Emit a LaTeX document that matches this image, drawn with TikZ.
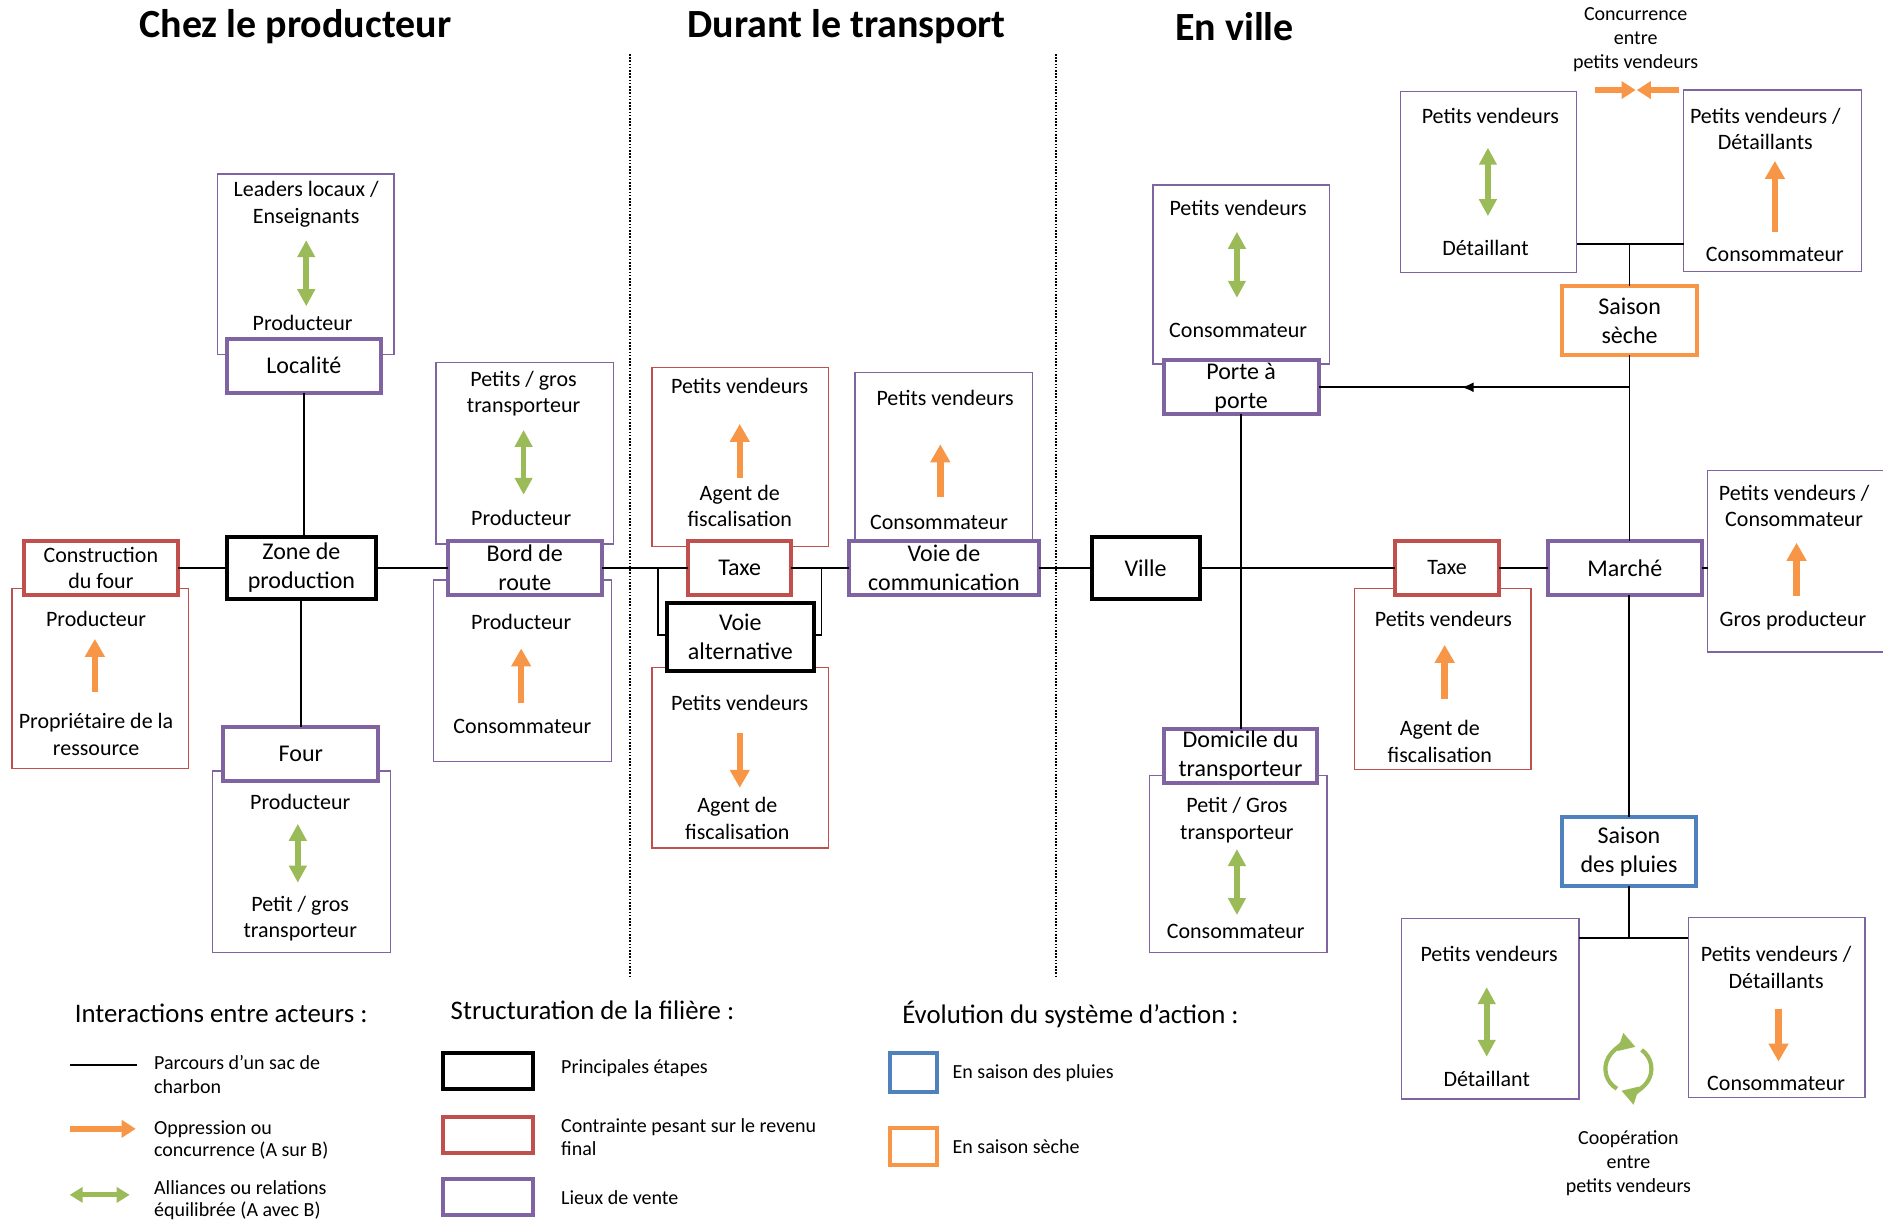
\documentclass[tikz,border=0pt]{standalone}
\usepackage{fontspec}
\setmainfont{Carlito}
\usetikzlibrary{arrows.meta,decorations.markings,calc}
\definecolor{cpurple}{HTML}{8064A2}
\definecolor{cred}{HTML}{C0504D}
\definecolor{corange}{HTML}{F79646}
\definecolor{cblue}{HTML}{4F81BD}
\definecolor{cgreen}{HTML}{9BBB59}
\newcommand{\fA}{\fontsize{11}{13}\selectfont}
\newcommand{\fM}{\fontsize{12}{14.5}\selectfont}
\newcommand{\fC}{\fontsize{11}{12.6}\selectfont}
\newcommand{\fT}{\fontsize{20}{24}\selectfont\bfseries}
\newcommand{\fL}{\fontsize{13.4}{15}\selectfont}
\newcommand{\fS}{\fontsize{10}{12}\selectfont}
\newcounter{tcnt}
\newcommand{\tx}[4][]{\stepcounter{tcnt}\node[txt,#1] (t\arabic{tcnt}) at (#2,#3) {#4};}
\newcommand{\mc}[7]{\node[mbox,#2,minimum width={#5*0.6005pt},minimum height={#6*0.6005pt}] (#1) at (#3,#4) {#7};}
\newcommand{\ab}[6]{\node[abox,draw=#2,minimum width={(#5-#3)*0.6005pt},minimum height={(#6-#4)*0.6005pt}] (#1) at ({(#3+#5)/2},{(#4+#6)/2}) {};}
\tikzset{
  txt/.style={font=\fA, inner sep=0pt, text height=7pt, text depth=0pt},
  txs/.style={font=\fS, inner sep=0pt, text height=6.4pt, text depth=0pt, anchor=west},
  txl/.style={font=\fL, inner sep=0pt, text height=8.6pt, text depth=0pt, anchor=west},
  abox/.style={line width=0.7pt, inner sep=0pt, outer sep=0pt},
  mbox/.style={draw, line width=2pt, fill=white, inner sep=0pt, outer sep=0pt, align=center, font=\fM},
  conn/.style={line width=0.8pt, black},
  dotline/.style={line width=1pt, dash pattern=on 0.8pt off 0.8pt, black},
  oarr/.style={draw=corange, line width=3.2pt, -{Triangle[width=9.5pt,length=9pt]}},
  garr/.style={draw=cgreen, line width=2.8pt, {Triangle[width=8.5pt,length=8.5pt]}-{Triangle[width=8.5pt,length=8.5pt]}},
  oarrs/.style={draw=corange, line width=2.8pt, -{Triangle[width=8.5pt,length=7pt]}},
  garrs/.style={draw=cgreen, line width=2.6pt, {Triangle[width=7.5pt,length=6.5pt]}-{Triangle[width=7.5pt,length=6.5pt]}},
  cyc/.style={draw=cgreen, line width=2.1pt, -{Triangle[width=9pt,length=8pt]}},
}
\begin{document}
\begin{tikzpicture}[x=0.6005pt,y=-0.6005pt]
\fill[white] (0,0) rectangle (1568,1016);
\useasboundingbox (0,0) rectangle (1568,1016);

% titles
\node[font=\fT, inner sep=0pt] (h1) at (246,22) {Chez le producteur};
\node[font=\fT, inner sep=0pt] (h2) at (705,22) {Durant le transport};
\node[font=\fT, inner sep=0pt] (h3) at (1028,22) {En ville};

% dotted separators
\coordinate (d1a) at (525,45); \coordinate (d1b) at (525,815);
\coordinate (d2a) at (879,45); \coordinate (d2b) at (879,815);
\draw[dotline] (d1a) -- (d1b);
\draw[dotline] (d2a) -- (d2b);

% actor boxes
\ab{a1}{cpurple}{181}{145}{328}{295}
\ab{a2}{cpurple}{363}{302}{511}{453}
\ab{a3}{cred}{10}{490}{157}{640}
\ab{a4}{cpurple}{361}{483}{509}{634}
\ab{a5}{cpurple}{177}{642}{325}{793}
\ab{a6}{cred}{543}{306}{690}{455}
\ab{a7}{cred}{543}{556}{690}{706}
\ab{a8}{cpurple}{712}{310}{860}{455}
\ab{a9}{cpurple}{960}{154}{1107}{303}
\ab{a10}{cpurple}{957}{646}{1105}{793}
\ab{a11}{cred}{1128}{490}{1275}{641}
\ab{a12}{cpurple}{1422}{392}{1578}{543}
\ab{a13}{cpurple}{1166}{76}{1313}{227}
\ab{a14}{cpurple}{1402}{75}{1550}{226}
\ab{a15}{cpurple}{1167}{765}{1315}{915}
\ab{a16}{cpurple}{1406}{764}{1553}{914}

% main boxes
\mc{cons}{draw=cred,font=\fC}{84}{473}{128}{45}{Construction\\du four}
\mc{zone}{draw=black}{251}{473}{124}{52}{Zone de\\production}
\mc{loc}{draw=cpurple}{253}{304.5}{128}{45}{Localité}
\mc{four}{draw=cpurple}{250.5}{627.5}{129}{45}{Four}
\mc{bord}{draw=cpurple}{437}{473}{128}{45}{Bord de\\route}
\mc{taxe1}{draw=cred}{616}{473}{86}{45}{Taxe}
\mc{va}{draw=black}{616.5}{530.5}{123}{57}{Voie\\alternative}
\mc{vcom}{draw=cpurple}{786}{473}{158}{45}{Voie de\\communication}
\mc{ville}{draw=black}{954}{473}{90}{51}{Ville}
\mc{pp}{draw=cpurple}{1033.5}{322.5}{129}{45}{Porte à\\porte}
\mc{dom}{draw=cpurple}{1033}{629.5}{128}{45}{Domicile du\\transporteur}
\mc{taxe2}{draw=cred,font=\fA}{1205}{473}{86}{45}{Taxe}
\mc{marche}{draw=cpurple}{1353}{473}{128}{45}{Marché}
\mc{sec}{draw=corange}{1357}{267}{112}{58}{Saison\\sèche}
\mc{pluie}{draw=cblue}{1356.5}{709}{111}{58}{Saison\\des pluies}

% main route
\draw[conn] (cons.east) -- (zone.west);
\draw[conn] (zone.east) -- (bord.west);
\draw[conn] (bord.east) -- (taxe1.west);
\draw[conn] (taxe1.east) -- (vcom.west);
\draw[conn] (vcom.east) -- (ville.west);
\draw[conn] (ville.east) -- (taxe2.west);
\draw[conn] (taxe2.east) -- (marche.west);
\draw[conn] (marche.east) -- (marche.east -| a12.west);
% branches
\draw[conn] (loc.south) -- (loc.south |- zone.north);
\draw[conn] (four.north) -- (four.north |- zone.south);
\coordinate (bl) at (548,529);
\coordinate (br) at (684,529);
\draw[conn] (bl |- taxe1.center) -- (bl) -- (bl -| va.west);
\draw[conn] (br |- taxe1.center) -- (br) -- (br -| va.east);
\draw[conn] (pp.south) -- (pp.south |- dom.north);
\draw[conn] (sec.south) -- (sec.south |- marche.north);
\draw[conn] (pluie.north) -- (pluie.north |- marche.south);
\coordinate (jn) at (sec.south |- pp.east);
\draw[conn, postaction={decorate}, decoration={markings, mark=at position 0.54 with {\arrow{Latex[length=6pt,width=5pt]}}}] (jn) -- (pp.east);
\coordinate (tj) at (1359,203);
\draw[conn] (sec.north) -- (sec.north |- tj);
\draw[conn] (tj -| a13.east) -- (tj -| a14.west);
\coordinate (bj) at (1359,781);
\draw[conn] (pluie.south) -- (pluie.south |- bj);
\draw[conn] (bj -| a15.east) -- (bj -| a16.west);

% actor contents
\tx{255}{158}{Leaders locaux /}
\tx{255}{180}{Enseignants}
\draw[garr] (255,200) -- (255,255);
\tx{252}{269}{Producteur}

\tx{436}{316}{Petits / gros}
\tx{436}{338}{transporteur}
\draw[garr] (436,358) -- (436,412);
\tx{434}{432}{Producteur}

\tx{80}{516}{Producteur}
\draw[oarr] (79,576) -- (79,532);
\tx{80}{601}{Propriétaire de la}
\tx{80}{623}{ressource}

\tx{434}{518}{Producteur}
\draw[oarr] (434,585) -- (434,540);
\tx{435}{605}{Consommateur}

\tx{250}{668}{Producteur}
\draw[garr] (248,686) -- (248,735);
\tx{250}{753}{Petit / gros}
\tx{250}{775}{transporteur}

\tx{616}{322}{Petits vendeurs}
\draw[oarr] (616,398) -- (616,353);
\tx{616}{411}{Agent de}
\tx{616}{433}{fiscalisation}

\tx{616}{586}{Petits vendeurs}
\draw[oarr] (616,610) -- (616,656);
\tx{614}{671}{Agent de}
\tx{614}{693}{fiscalisation}

\tx{787}{332}{Petits vendeurs}
\draw[oarr] (783,414) -- (783,370);
\tx{782}{435}{Consommateur}

\tx{1031}{174}{Petits vendeurs}
\draw[garr] (1030,193) -- (1030,248);
\tx{1031}{275}{Consommateur}

\tx{1030}{671}{Petit / Gros}
\tx{1030}{693}{transporteur}
\draw[garr] (1030,707) -- (1030,762);
\tx{1029}{776}{Consommateur}

\tx{1202}{516}{Petits vendeurs}
\draw[oarr] (1203,582) -- (1203,537);
\tx{1199}{607}{Agent de}
\tx{1199}{629}{fiscalisation}

\tx{1494}{411}{Petits vendeurs /}
\tx{1494}{433}{Consommateur}
\draw[oarr] (1496,496) -- (1496,452);
\tx{1493}{516}{Gros producteur}

\tx{1241}{97}{Petits vendeurs}
\draw[garr] (1239,123) -- (1239,180);
\tx{1237}{207}{Détaillant}

\tx{1470}{97}{Petits vendeurs /}
\tx{1470}{119}{Détaillants}
\draw[oarr] (1478,193) -- (1478,134);
\tx{1478}{212}{Consommateur}

\tx[font=\fS,text height=6.4pt]{1362}{12}{Concurrence}
\tx[font=\fS,text height=6.4pt]{1362}{32}{entre}
\tx[font=\fS,text height=6.4pt]{1362}{52}{petits vendeurs}
\draw[oarrs] (1328,75) -- (1362,75);
\draw[oarrs] (1398,75) -- (1363,75);

\tx{1240}{795}{Petits vendeurs}
\draw[garr] (1238,822) -- (1238,880);
\tx{1238}{899}{Détaillant}

\tx{1479}{795}{Petits vendeurs /}
\tx{1479}{817}{Détaillants}
\draw[oarr] (1481,840) -- (1481,884);
\tx{1479}{902}{Consommateur}

% cooperation cycle
\coordinate (cyc) at (1356,890);
\draw[cyc] ([shift={(240:11.5pt)}]cyc) arc[start angle=240, end angle=72, radius=11.5pt];
\draw[cyc] ([shift={(55:11.5pt)}]cyc) arc[start angle=55, end angle=-108, radius=11.5pt];
\tx[font=\fS,text height=6.4pt]{1356}{948}{Coopération}
\tx[font=\fS,text height=6.4pt]{1356}{968}{entre}
\tx[font=\fS,text height=6.4pt]{1356}{988}{petits vendeurs}

% legend
\tx[txl]{62}{844}{Interactions entre acteurs :}
\tx[txl]{375}{842}{Structuration de la filière :}
\tx[txl]{751}{845}{Évolution du système d’action :}

\coordinate (l1a) at (58,887); \coordinate (l1b) at (114,887);
\draw[conn] (l1a) -- (l1b);
\coordinate (l2a) at (58,940); \coordinate (l2b) at (113,940);
\draw[oarrs] (l2a) -- (l2b);
\coordinate (l3a) at (58,995); \coordinate (l3b) at (108,995);
\draw[garrs] (l3a) -- (l3b);
\tx[txs]{128}{885}{Parcours d’un sac de}
\tx[txs]{128}{905}{charbon}
\tx[txs]{128}{939}{Oppression ou}
\tx[txs]{128}{958}{concurrence (A sur B)}
\tx[txs]{128}{989}{Alliances ou relations}
\tx[txs]{128}{1008}{équilibrée (A avec B)}

\mc{lg1}{draw=black}{406.5}{892}{75}{30}{}
\mc{lg2}{draw=cred}{406.5}{945}{75}{30}{}
\mc{lg3}{draw=cpurple}{406.5}{997}{75}{30}{}
\tx[txs]{467}{889}{Principales étapes}
\tx[txs]{467}{938}{Contrainte pesant sur le revenu}
\tx[txs]{467}{957}{final}
\tx[txs]{467}{998}{Lieux de vente}

\mc{lg4}{draw=cblue}{760.5}{893}{39}{32}{}
\mc{lg5}{draw=corange}{760.5}{954.5}{39}{31}{}
\tx[txs]{793}{893}{En saison des pluies}
\tx[txs]{793}{955}{En saison sèche}
\end{tikzpicture}
\end{document}
